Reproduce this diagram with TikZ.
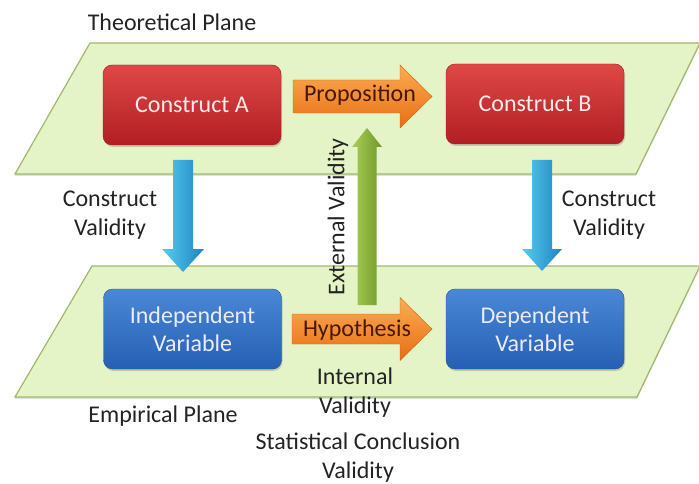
\documentclass[tikz,border=0pt]{standalone}
\usepackage{fontspec}
\setmainfont{Carlito}
\usetikzlibrary{calc,shadows}

\definecolor{planefill}{RGB}{229,244,198}
\definecolor{planeline}{RGB}{160,184,108}
\definecolor{redtop}{RGB}{222,72,70}
\definecolor{redbot}{RGB}{178,30,36}
\definecolor{bluetop}{RGB}{74,136,214}
\definecolor{bluebot}{RGB}{38,96,180}
\definecolor{orangetop}{RGB}{252,172,82}
\definecolor{orangebot}{RGB}{232,110,20}
\definecolor{greenl}{RGB}{168,206,86}
\definecolor{greend}{RGB}{112,152,42}
\definecolor{cyanl}{RGB}{86,204,240}
\definecolor{cyand}{RGB}{30,132,192}
\definecolor{labeltext}{RGB}{35,35,35}

% Blockpfeil: #1 Stil, #2 Anfang, #3 Spitze, #4 halbe Schaftbreite,
% #5 halbe Kopfbreite, #6 Kopflaenge
\newcommand{\blockpfeil}[6]{%
    \coordinate (bp-h) at ($(#3)!#6!(#2)$);
    \path[#1] ($(#2)!#4!90:(#3)$) -- ($(bp-h)!#4!90:(#3)$) -- ($(bp-h)!#5!90:(#3)$) -- (#3)
        -- ($(bp-h)!#5!-90:(#3)$) -- ($(bp-h)!#4!-90:(#3)$) -- ($(#2)!#4!-90:(#3)$) -- cycle;
}

\tikzset{
    schrift/.style={font=\fontsize{24}{29}\selectfont, text=labeltext, align=center, inner sep=0pt},
    ebene/.style={fill=planefill, draw=planeline, line width=1.2pt,
        drop shadow={opacity=0.25, shadow xshift=0pt, shadow yshift=-2pt}},
    kasten/.style={rectangle, rounded corners=9pt, minimum width=178pt, minimum height=80pt,
        align=center, font=\fontsize{24}{28}\selectfont,
        drop shadow={opacity=0.35, shadow xshift=1pt, shadow yshift=-2pt}},
    konstrukt/.style={kasten, top color=redtop, bottom color=redbot, draw=redbot!85!black, text=red!8},
    varkasten/.style={kasten, top color=bluetop, bottom color=bluebot, draw=bluebot!85!black, text=blue!8},
    orangepfeil/.style={top color=orangetop, bottom color=orangebot, draw=orangebot!90!black},
    gruenpfeil/.style={left color=greenl, right color=greend},
    blaupfeil/.style={left color=cyanl, right color=cyand},
}

\begin{document}
\begin{tikzpicture}[x=1pt, y=-1pt]
    % Bildgroesse wie die Vorlage (Pixel = pt):
    \useasboundingbox (0,0) rectangle (699,484);
    % Die beiden Ebenen als Parallelogramme:
    \path[ebene] (90,43) -- (700,43) -- (636,174) -- (15,174) -- cycle;
    \path[ebene] (92,266) -- (700,266) -- (637,397) -- (15,397) -- cycle;
    \node[schrift] (theo) at (172,22) {Theoretical Plane};
    \node[schrift] (emp) at (163,416) {Empirical Plane};
    % Konstruktvaliditaet (die blauen Pfeile nach unten):
    \coordinate (cvA-s) at (183,160);
    \coordinate (cvA-t) at (183,272);
    \coordinate (cvB-s) at (542,160);
    \coordinate (cvB-t) at (542,271);
    \blockpfeil{blaupfeil}{cvA-s}{cvA-t}{10pt}{21pt}{23pt}
    \blockpfeil{blaupfeil}{cvB-s}{cvB-t}{10pt}{20pt}{22pt}
    \node[schrift] (cvA) at (110,215) {Construct\\Validity};
    \node[schrift] (cvB) at (609,215) {Construct\\Validity};
    % Die vier Kaesten:
    \node[konstrukt] (conA) at (192,105) {Construct A};
    \node[konstrukt] (conB) at (535,104) {Construct B};
    \node[varkasten] (indVar) at (192.5,329) {Independent\\Variable};
    \node[varkasten] (depVar) at (535,329) {Dependent\\Variable};
    % Externe Validitaet (gruener Pfeil nach oben):
    \coordinate (ev-s) at (367,305);
    \coordinate (ev-t) at (367,128);
    \blockpfeil{gruenpfeil}{ev-s}{ev-t}{9.5pt}{15pt}{19pt}
    \node[schrift, rotate=90] (extVal) at (338,217) {External Validity};
    % Proposition und Hypothese (orange Pfeile):
    \coordinate (prop-s) at (293,96.5);
    \coordinate (prop-t) at (432,96.5);
    \coordinate (hyp-s) at (292,329);
    \coordinate (hyp-t) at (432,329);
    \blockpfeil{orangepfeil}{prop-s}{prop-t}{16.5pt}{31.5pt}{32pt}
    \blockpfeil{orangepfeil}{hyp-s}{hyp-t}{15pt}{31.5pt}{32pt}
    \node[schrift, text={rgb,255:red,70;green,25;blue,0}] (prop) at (360,95) {Proposition};
    \node[schrift, text={rgb,255:red,70;green,25;blue,0}] (hyp) at (357,330) {Hypothesis};
    % Beschriftungen unten in der Mitte:
    \node[schrift] (intVal) at (355,393) {Internal\\Validity};
    \node[schrift] (statVal) at (358,458) {Statistical Conclusion\\Validity};
\end{tikzpicture}
\end{document}
